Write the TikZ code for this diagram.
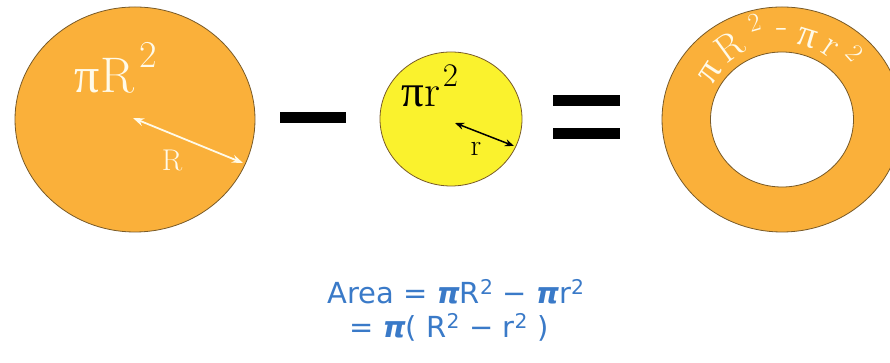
\documentclass[tikz,border=0pt]{standalone}
\usepackage{fontspec}
\usetikzlibrary{arrows.meta,calc}
\newfontfamily\formfont{DejaVu Sans}
\newfontfamily\grk{Liberation Serif}
\definecolor{ringorange}{RGB}{250,176,58}
\definecolor{ballyellow}{RGB}{250,242,45}
\definecolor{edgecol}{RGB}{120,90,40}
\definecolor{labwhite}{RGB}{255,250,232}
\definecolor{formblue}{RGB}{58,122,200}
\begin{document}
\begin{tikzpicture}[x=1pt,y=1pt,
  outline/.style={draw=edgecol, line width=0.8pt},
  whitearrow/.style={{Stealth[length=11pt,width=8pt]}-{Stealth[length=11pt,width=8pt]}, line width=1.8pt, draw=labwhite},
  blackarrow/.style={{Stealth[length=9pt,width=7pt]}-{Stealth[length=9pt,width=7pt]}, line width=1.5pt, draw=black},
  biglab/.style={text=labwhite, font=\fontsize{50}{56}\selectfont, inner sep=0pt},
  smalllab/.style={text=black, font=\fontsize{45}{50}\selectfont, inner sep=0pt},
  radlab/.style={font=\fontsize{30}{34}\selectfont, inner sep=0pt},
  ringglyph/.style={text=labwhite, font=\fontsize{38}{42}\selectfont, inner sep=0pt, anchor=base},
  formula/.style={text=formblue, font=\formfont\fontsize{29}{33}\selectfont, inner sep=0pt, anchor=base},
  bar/.style={fill=black}
]
\useasboundingbox (0,0) rectangle (890,363);
\clip (0,0) rectangle (890,363);
\fill[white] (0,0) rectangle (890,363);

% big circle
\coordinate (bigc) at (135,243.5);
\filldraw[outline, fill=ringorange] (bigc) ellipse [x radius=120, y radius=112.5];
\node[biglab, anchor=base west] (bigtxt) at (74,270) {{\grk π}\kern1pt R\kern5pt\raisebox{0.5em}{\fontsize{38}{38}\selectfont 2}};
\coordinate (bigA) at (133,245);
\coordinate (bigB) at (243,200);
\draw[whitearrow] (bigA) -- (bigB);
\node[radlab, text=labwhite] (Rlab) at (172,202) {R};

% minus
\fill[bar] (280,240) rectangle (346,251);

% small circle
\coordinate (smc) at (451,244);
\filldraw[outline, fill=ballyellow] (smc) ellipse [x radius=71, y radius=67];
\node[smalllab, anchor=base west] (smtxt) at (401,256) {{\grk π}\kern1pt r\kern2pt\raisebox{0.45em}{\fontsize{33}{33}\selectfont 2}};
\coordinate (smA) at (455,240);
\coordinate (smB) at (514,217);
\draw[blackarrow] (smA) -- (smB);
\node[radlab] (rlab) at (476,214) {r};

% equals
\fill[bar] (553,257) rectangle (620,268);
\fill[bar] (553,224) rectangle (620,235);

% ring
\coordinate (ringc) at (782,243.5);
\fill[ringorange, even odd rule] (ringc) ellipse [x radius=120, y radius=112.5]
  (ringc) ellipse [x radius=71.5, y radius=67.5];
\draw[outline] (ringc) ellipse [x radius=120, y radius=112.5];
\draw[outline] (ringc) ellipse [x radius=71.5, y radius=67.5];
\foreach \ang/\rad/\g/\nm in {147/77/{\grk π}/g1, 126/77/R/g2, 106/92/{\fontsize{26}{26}\selectfont 2}/g3,
    90/82/-/g4, 73/77/{\grk π}/g5, 56/77/r/g6, 42/90/{\fontsize{26}{26}\selectfont 2}/g7}{
  \node[ringglyph, rotate=\ang-90] (\nm) at ($(ringc)+(\ang:\rad)$) {\g};
}

% formula
\node[formula] (line1) at (456,59) {Area = {\bfseries\itshape π}R\textsuperscript{2} − {\bfseries\itshape π}r\textsuperscript{2}};
\node[formula] (line2) at (449,25) {= {\bfseries\itshape π}( R\textsuperscript{2} − r\textsuperscript{2} )};
\end{tikzpicture}
\end{document}
